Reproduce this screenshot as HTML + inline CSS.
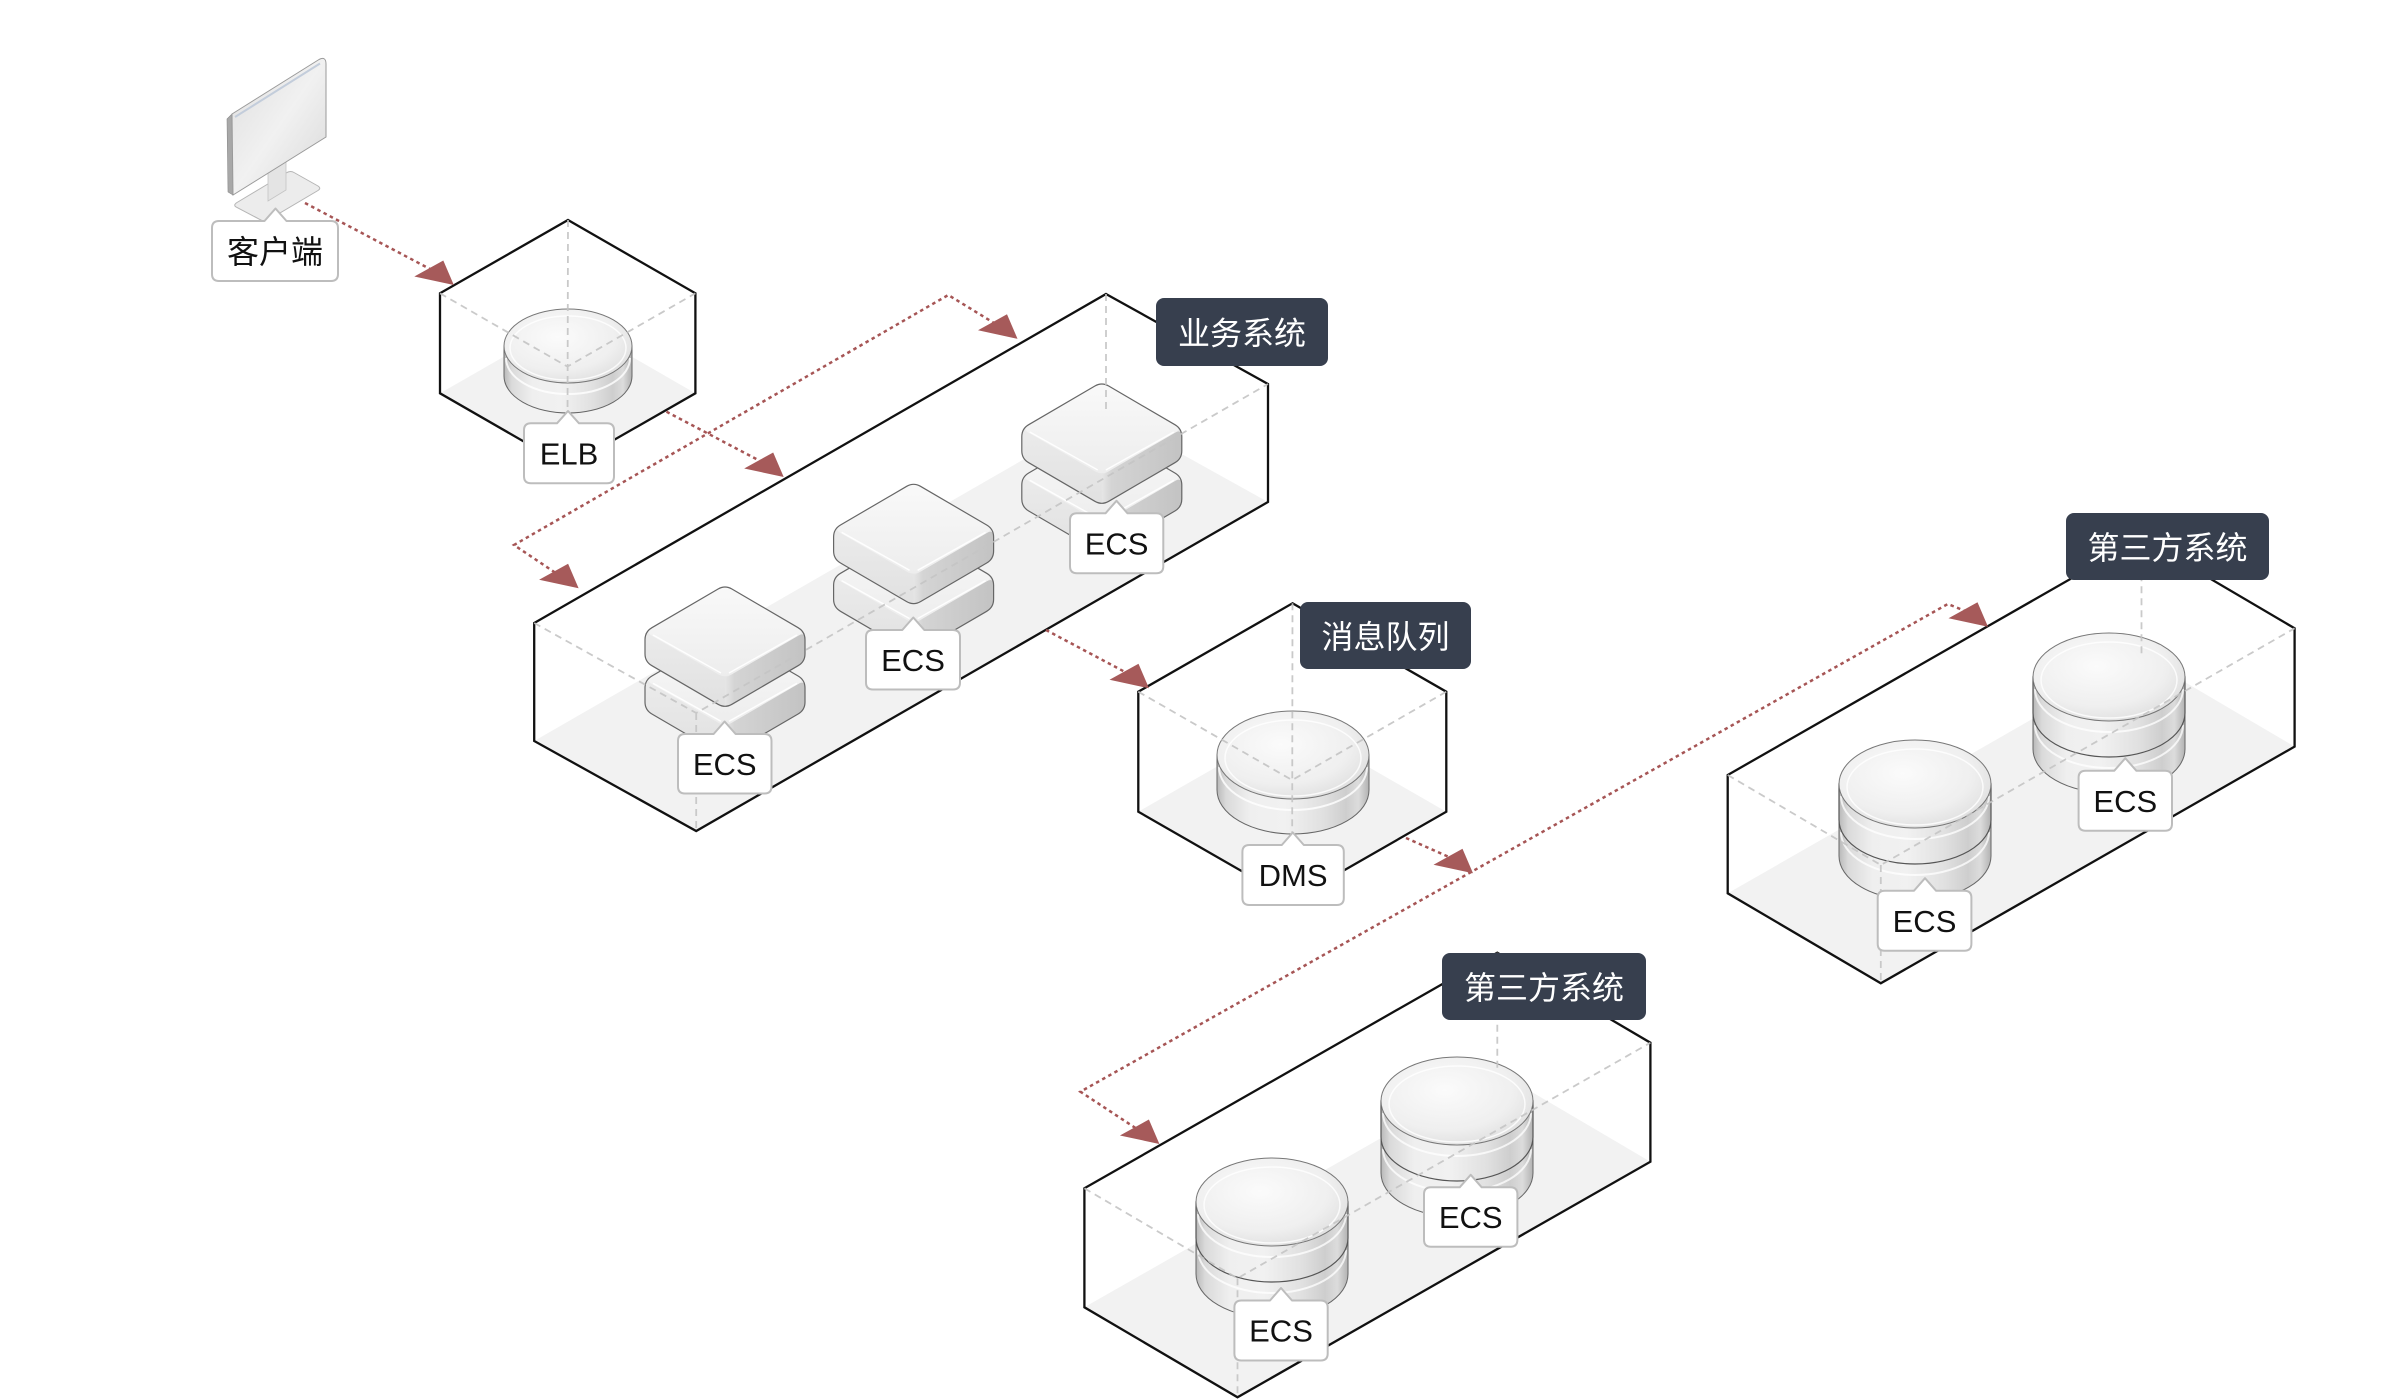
<!DOCTYPE html>
<html>
<head>
<meta charset="utf-8">
<style>
html,body{margin:0;padding:0;background:#fff;}
svg{display:block;}
.lbl{font-family:"Liberation Sans","Noto Sans CJK SC",sans-serif;font-size:31px;fill:#111;text-anchor:middle;}
.cjk{font-family:"Liberation Sans","Noto Sans CJK SC",sans-serif;font-size:32px;text-anchor:middle;}
</style>
</head>
<body>
<svg width="2400" height="1400" viewBox="0 0 2400 1400" xmlns="http://www.w3.org/2000/svg">
<defs>
  <linearGradient id="cylBody" x1="0" y1="0" x2="1" y2="0">
    <stop offset="0" stop-color="#b9b9b9"/>
    <stop offset="0.06" stop-color="#dadada"/>
    <stop offset="0.22" stop-color="#efefef"/>
    <stop offset="0.45" stop-color="#f1f1f1"/>
    <stop offset="0.7" stop-color="#e0e0e0"/>
    <stop offset="0.85" stop-color="#cecece"/>
    <stop offset="0.93" stop-color="#dcdcdc"/>
    <stop offset="1" stop-color="#b2b2b2"/>
  </linearGradient>
  <radialGradient id="cylTop" cx="0.42" cy="0.38" r="0.7">
    <stop offset="0" stop-color="#fbfbfb"/>
    <stop offset="0.65" stop-color="#efefef"/>
    <stop offset="1" stop-color="#dcdcdc"/>
  </radialGradient>
  <linearGradient id="slabTop" x1="0" y1="0" x2="0" y2="1">
    <stop offset="0" stop-color="#f9f9f9"/>
    <stop offset="1" stop-color="#ededed"/>
  </linearGradient>
  <linearGradient id="slabLeft" x1="0" y1="0" x2="0" y2="1">
    <stop offset="0" stop-color="#f1f1f1"/>
    <stop offset="1" stop-color="#e1e1e1"/>
  </linearGradient>
  <linearGradient id="slabRight" x1="0" y1="0" x2="1" y2="0">
    <stop offset="0" stop-color="#e6e6e6"/>
    <stop offset="0.12" stop-color="#d4d4d4"/>
    <stop offset="1" stop-color="#c3c3c3"/>
  </linearGradient>
  <linearGradient id="scr" x1="0" y1="0" x2="1" y2="1">
    <stop offset="0" stop-color="#dedede"/>
    <stop offset="0.5" stop-color="#f1f1f1"/>
    <stop offset="1" stop-color="#d8d8d8"/>
  </linearGradient>

  <g id="slab">
    <path d="M6.9,4 L73.1,42.7 Q80,46.7 80,54.7 L80,68.7 Q80,76.7 73.1,80.7 L6.9,119.3 Q0,123.3 -6.9,119.3 L-73.1,80.7 Q-80,76.7 -80,68.7 L-80,54.7 Q-80,46.7 -73.1,42.7 L-6.9,4 Q0,0 6.9,4 Z" fill="url(#slabLeft)"/>
    <path d="M0,93.3 L73.1,50.7 Q80,46.7 80,54.7 L80,68.7 Q80,76.7 73.1,80.7 L6.9,119.3 Q3.5,121.3 0,121.3 Z" fill="url(#slabRight)"/>
    <path d="M6.9,4 L73.1,42.7 Q80,46.7 73.1,50.7 L6.9,89.3 Q0,93.3 -6.9,89.3 L-73.1,50.7 Q-80,46.7 -73.1,42.7 L-6.9,4 Q0,0 6.9,4 Z" fill="url(#slabTop)"/>
    <path d="M-72,50 L-4,88 M4,88 L72,50" fill="none" stroke="#ffffff" stroke-width="1.5" opacity="0.9"/>
    <path d="M6.9,4 L73.1,42.7 Q80,46.7 80,54.7 L80,68.7 Q80,76.7 73.1,80.7 L6.9,119.3 Q0,123.3 -6.9,119.3 L-73.1,80.7 Q-80,76.7 -80,68.7 L-80,54.7 Q-80,46.7 -73.1,42.7 L-6.9,4 Q0,0 6.9,4 Z" fill="none" stroke="#666" stroke-width="1.2"/>
  </g>
  <g id="ecs">
    <use href="#slab" x="0" y="48.3"/>
    <use href="#slab" x="0" y="0"/>
  </g>
  <g id="drum2">
    <path d="M-76,36 V72 A76,44 0 0 0 76,72 V36 Z" fill="url(#cylBody)" stroke="#666" stroke-width="1"/>
    <path d="M-74,48 A74,43 0 0 0 74,48" fill="none" stroke="#fff" stroke-width="2" opacity="0.75"/>
    <path d="M-76,0 V36 A76,44 0 0 0 76,36 V0 Z" fill="url(#cylBody)" stroke="#555" stroke-width="1.2"/>
    <path d="M-74,12 A74,43 0 0 0 74,12" fill="none" stroke="#fff" stroke-width="2" opacity="0.75"/>
    <ellipse cx="0" cy="0" rx="76" ry="44" fill="url(#cylTop)" stroke="#777" stroke-width="1"/>
    <ellipse cx="0" cy="3" rx="68" ry="38" fill="none" stroke="#fff" stroke-width="1.5" opacity="0.8"/>
  </g>
</defs>

<rect width="2400" height="1400" fill="#fff"/>

<!-- floors -->
<g fill="#f2f2f2">
  <path d="M440,393.3 L568,320 L695.4,393.3 L567.4,466.6 Z"/>
  <path d="M534.2,741 L1106,412 L1268,502 L696.2,831 Z"/>
  <path d="M1138.3,811.7 L1292.5,723.3 L1446.3,811.7 L1292.1,900.1 Z"/>
  <path d="M1727.7,893.3 L2141.5,656.6 L2294.6,746.6 L1880.8,983.3 Z"/>
  <path d="M1084.4,1307.3 L1497.3,1071.7 L1650.4,1161.7 L1237.5,1397.3 Z"/>
</g>

<!-- box outlines -->
<g fill="none" stroke="#111" stroke-width="2.3" stroke-linejoin="miter">
  <path d="M568,220 L695.4,293.3 L695.4,393.3 L567.4,466.6 L440,393.3 L440,293.3 Z"/>
  <path d="M1106,294 L1268,384 L1268,502 L696.2,831 L534.2,741 L534.2,623 Z"/>
  <path d="M1292.5,603.3 L1446.3,691.7 L1446.3,811.7 L1292.1,900.1 L1138.3,811.7 L1138.3,691.7 Z"/>
  <path d="M2141.5,538.3 L2294.6,628.3 L2294.6,746.6 L1880.8,983.3 L1727.7,893.3 L1727.7,775 Z"/>
  <path d="M1497.3,952.7 L1650.4,1042.7 L1650.4,1161.7 L1237.5,1397.3 L1084.4,1307.3 L1084.4,1188.3 Z"/>
</g>

<!-- monitor -->
<g>
  <path d="M236,207 Q233,205 237,202.5 L287,172.5 Q290.7,170.5 294,172.5 L318,186 Q321.5,188.3 318,190.5 L268,220 Q264,222 260,219.5 Z" fill="#ececec" stroke="#b5b5b5" stroke-width="1"/>
  <path d="M268,170 L286,159 L286,190 L268,201 Z" fill="#e4e4e4" stroke="#c4c4c4" stroke-width="0.8"/>
  <path d="M227,119 L232,114 L233,195 L228,192 Z" fill="#a8a8a8" stroke="#8a8a8a" stroke-width="0.6"/>
  <path d="M232,114 L319,59.5 Q326,56 326,64 L326,137 L233,195 Z" fill="url(#scr)" stroke="#9a9a9a" stroke-width="1"/>
  <path d="M235,117 L320,63.5" stroke="#c3cddb" stroke-width="2" fill="none"/>
</g>

<!-- devices -->
<g>
  <path d="M504,346 V376 A64,37 0 0 0 632,376 V346 Z" fill="url(#cylBody)" stroke="#666" stroke-width="1"/>
  <path d="M506,358 A62,36 0 0 0 630,358" fill="none" stroke="#fff" stroke-width="2" opacity="0.8"/>
  <ellipse cx="568" cy="346" rx="64" ry="37" fill="url(#cylTop)" stroke="#777" stroke-width="1"/>
  <ellipse cx="568" cy="348" rx="58" ry="32" fill="none" stroke="#fff" stroke-width="1.5" opacity="0.8"/>

  <path d="M1217,755 V790 A76,44 0 0 0 1369,790 V755 Z" fill="url(#cylBody)" stroke="#666" stroke-width="1"/>
  <path d="M1219,767 A74,43 0 0 0 1367,767" fill="none" stroke="#fff" stroke-width="2" opacity="0.8"/>
  <ellipse cx="1293" cy="755" rx="76" ry="44" fill="url(#cylTop)" stroke="#777" stroke-width="1"/>
  <ellipse cx="1293" cy="758" rx="68" ry="38" fill="none" stroke="#fff" stroke-width="1.5" opacity="0.8"/>

  <use href="#ecs" x="1101.8" y="382"/>
  <use href="#ecs" x="913.6" y="482.3"/>
  <use href="#ecs" x="725" y="585"/>

  <use href="#drum2" x="2109" y="677"/>
  <use href="#drum2" x="1915" y="784"/>
  <use href="#drum2" x="1457" y="1101"/>
  <use href="#drum2" x="1272" y="1202"/>
</g>

<!-- hidden (dashed) edges -->
<g fill="none" stroke="#c4c4c4" stroke-width="1.8" stroke-dasharray="7 5" opacity="0.9">
  <path d="M440,293.3 L567.4,366.6 L695.4,293.3 M568,220 L567.4,466.6"/>
  <path d="M534.2,623 L696.2,713 L1268,384 M1106,294 L1106,412 M696.2,713 L696.2,831"/>
  <path d="M1138.3,691.7 L1292.1,780.1 L1446.3,691.7 M1292.5,603.3 L1292.1,900.1"/>
  <path d="M1727.7,775 L1880.8,865 L2294.6,628.3 M2141.5,538.3 L2141.5,656.6 M1880.8,865 L1880.8,983.3"/>
  <path d="M1084.4,1188.3 L1237.5,1278.3 L1650.4,1042.7 M1497.3,952.7 L1497.3,1071.7 M1237.5,1278.3 L1237.5,1397.3"/>
</g>

<!-- connectors -->
<g fill="none" stroke="#a65555" stroke-width="2.5" stroke-dasharray="3.5 3.5">
  <path d="M305,203 L430,269"/>
  <path d="M666.5,411.7 L760,461"/>
  <path d="M555,572.5 L514,545 L948.3,295 L994,323"/>
  <path d="M1046,630 L1125,672"/>
  <path d="M1406,838 L1449,857"/>
  <path d="M1135.5,1128 L1080.4,1091.7 L1947.8,604 L1964,610.5"/>
</g>
<g fill="#a65a5a">
  <polygon points="453.8,285 414.3,276.5 443.3,260.5"/>
  <polygon points="783.7,477 744.2,468.5 773.2,452.5"/>
  <polygon points="578.6,588.3 539.1,579.8 568.1,563.8"/>
  <polygon points="1017.5,338.8 978,330.3 1007,314.3"/>
  <polygon points="1149,688.3 1109.5,679.8 1138.5,663.8"/>
  <polygon points="1473,873.3 1433.5,864.8 1462.5,848.8"/>
  <polygon points="1159.4,1144 1119.9,1135.5 1148.9,1119.5"/>
  <polygon points="1988,626.7 1948.5,618.2 1977.5,602.2"/>
</g>

<!-- white labels -->
<g fill="#fff" stroke="#bdbdbd" stroke-width="2" stroke-linejoin="round">
  <path d="M219,221 L264.5,221 L275.5,208.5 L286.5,221 L331,221 Q338,221 338,228 L338,274 Q338,281 331,281 L219,281 Q212,281 212,274 L212,228 Q212,221 219,221 Z"/>
  <path d="M531,423.3 L557,423.3 L568,411 L579,423.3 L607,423.3 Q614,423.3 614,430.3 L614,476.3 Q614,483.3 607,483.3 L531,483.3 Q524,483.3 524,476.3 L524,430.3 Q524,423.3 531,423.3 Z"/>
  <path d="M685,734 L713.6,734 L724.6,721.5 L735.6,734 L764.5,734 Q771.5,734 771.5,741 L771.5,786.5 Q771.5,793.5 764.5,793.5 L685,793.5 Q678,793.5 678,786.5 L678,741 Q678,734 685,734 Z"/>
  <path d="M873,630 L902.3,630 L913.3,617.5 L924.3,630 L953,630 Q960,630 960,637 L960,682.5 Q960,689.5 953,689.5 L873,689.5 Q866,689.5 866,682.5 L866,637 Q866,630 873,630 Z"/>
  <path d="M1077,513.3 L1105.5,513.3 L1116.5,500.8 L1127.5,513.3 L1156.3,513.3 Q1163.3,513.3 1163.3,520.3 L1163.3,566.3 Q1163.3,573.3 1156.3,573.3 L1077,573.3 Q1070,573.3 1070,566.3 L1070,520.3 Q1070,513.3 1077,513.3 Z"/>
  <path d="M1249.4,845 L1281.8,845 L1292.8,832.5 L1303.8,845 L1336.8,845 Q1343.8,845 1343.8,852 L1343.8,898 Q1343.8,905 1336.8,905 L1249.4,905 Q1242.4,905 1242.4,898 L1242.4,852 Q1242.4,845 1249.4,845 Z"/>
  <path d="M1884.7,890.7 L1914,890.7 L1925,878.2 L1936,890.7 L1964.4,890.7 Q1971.4,890.7 1971.4,897.7 L1971.4,943.7 Q1971.4,950.7 1964.4,950.7 L1884.7,950.7 Q1877.7,950.7 1877.7,943.7 L1877.7,897.7 Q1877.7,890.7 1884.7,890.7 Z"/>
  <path d="M2085.6,770.7 L2114.3,770.7 L2125.3,758.2 L2136.3,770.7 L2165,770.7 Q2172,770.7 2172,777.7 L2172,823.7 Q2172,830.7 2165,830.7 L2085.6,830.7 Q2078.6,830.7 2078.6,823.7 L2078.6,777.7 Q2078.6,770.7 2085.6,770.7 Z"/>
  <path d="M1241.4,1300.5 L1270,1300.5 L1281,1288 L1292,1300.5 L1320.7,1300.5 Q1327.7,1300.5 1327.7,1307.5 L1327.7,1353.5 Q1327.7,1360.5 1320.7,1360.5 L1241.4,1360.5 Q1234.4,1360.5 1234.4,1353.5 L1234.4,1307.5 Q1234.4,1300.5 1241.4,1300.5 Z"/>
  <path d="M1431,1187.3 L1459.7,1187.3 L1470.7,1174.8 L1481.7,1187.3 L1510.4,1187.3 Q1517.4,1187.3 1517.4,1194.3 L1517.4,1239.8 Q1517.4,1246.8 1510.4,1246.8 L1431,1246.8 Q1424,1246.8 1424,1239.8 L1424,1194.3 Q1424,1187.3 1431,1187.3 Z"/>
</g>
<g>
  <text class="cjk" x="275" y="263" fill="#111">客户端</text>
  <text class="lbl" x="569" y="464.5">ELB</text>
  <text class="lbl" x="724.7" y="775">ECS</text>
  <text class="lbl" x="913" y="671">ECS</text>
  <text class="lbl" x="1116.6" y="554.5">ECS</text>
  <text class="lbl" x="1293.1" y="886">DMS</text>
  <text class="lbl" x="1924.5" y="932">ECS</text>
  <text class="lbl" x="2125.3" y="812">ECS</text>
  <text class="lbl" x="1281" y="1341.7">ECS</text>
  <text class="lbl" x="1470.7" y="1228">ECS</text>
</g>

<!-- dark labels -->
<g fill="#373f4e">
  <rect x="1156" y="298" width="172" height="68" rx="8"/>
  <rect x="1300" y="602" width="171" height="67" rx="8"/>
  <rect x="2066" y="513" width="203" height="67" rx="8"/>
  <rect x="1442" y="953" width="204" height="67" rx="8"/>
</g>
<g fill="#fff">
  <text class="cjk" x="1242" y="344.5">业务系统</text>
  <text class="cjk" x="1385.5" y="647.8">消息队列</text>
  <text class="cjk" x="2167.5" y="558.8">第三方系统</text>
  <text class="cjk" x="1544" y="998.8">第三方系统</text>
</g>
</svg>
</body>
</html>
